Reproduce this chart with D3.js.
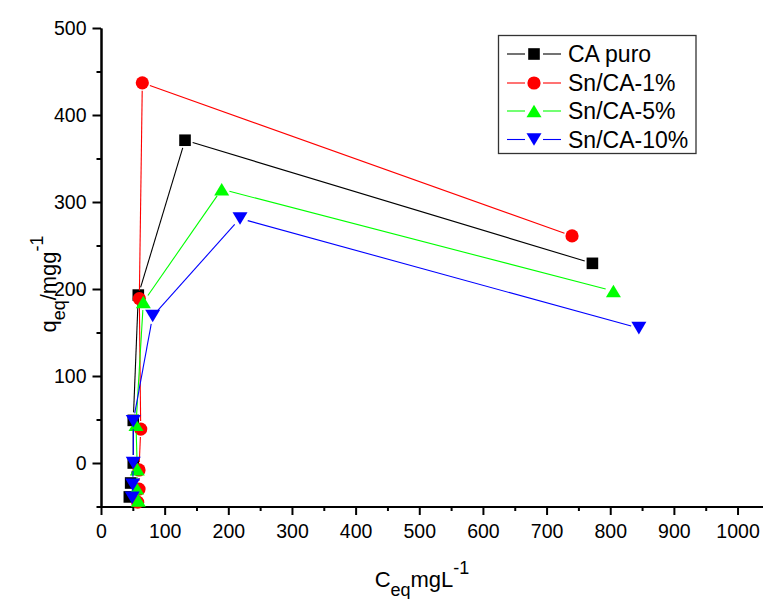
<!DOCTYPE html>
<html>
<head>
<meta charset="utf-8">
<script src="https://cdn.jsdelivr.net/npm/d3@7"></script>
<style>
  html, body { margin: 0; padding: 0; background: #fff; }
  svg { display: block; font-family: Arial, "Liberation Sans", sans-serif; }
</style>
</head>
<body>
<svg id="chart" width="763" height="599"></svg>
<script>
// Adsorption isotherm data: equilibrium concentration (mg/L) vs uptake (mg/g)
const seriesNames = ["CA puro", "Sn/CA-1%", "Sn/CA-5%", "Sn/CA-10%"];
const caPuroC = [44.5, 46.6, 50.7, 50.7, 58.6, 132, 772];
const caPuroQ = [-39, -23, 0, 49, 193, 371, 229.5];
const sn1C = [57.6, 59.7, 59.7, 62.4, 60.2, 64.9, 740];
const sn1Q = [-45, -30, -8, 39, 189, 437, 261];
const sn5C = [58.6, 56, 57, 55, 66.5, 189.6, 805];
const sn5Q = [-43, -29, -7, 44, 185, 314.6, 197.7];
const sn10C = [49, 49.8, 50.7, 50.7, 81.2, 218.4, 845];
const sn10Q = [-40, -25, 0, 48, 169, 281, 155];

const xTicks = [0, 100, 200, 300, 400, 500, 600, 700, 800, 900, 1000];
const xMinorTicks = [50, 150, 250, 350, 450, 550, 650, 750, 850, 950];
const yTicks = [0, 100, 200, 300, 400, 500];
const yMinorTicks = [-50, 50, 150, 250, 350, 450];

const colors = ["#000000", "#ff0000", "#00ff00", "#0000ff"];
const symbols = ["square", "circle", "triUp", "triDown"];

const series = [
  { name: seriesNames[0], c: caPuroC, q: caPuroQ },
  { name: seriesNames[1], c: sn1C, q: sn1Q },
  { name: seriesNames[2], c: sn5C, q: sn5Q },
  { name: seriesNames[3], c: sn10C, q: sn10Q }
];

const svg = d3.select("#chart");

const x = d3.scaleLinear().domain([0, 1040]).range([101, 763]);
const y = d3.scaleLinear().domain([-50, 500]).range([506.5, 28]);

// Axes
const axisStyle = g => {
  g.selectAll("path.domain").attr("stroke", "#000").attr("stroke-width", 2);
  g.selectAll(".tick line").attr("stroke", "#000").attr("stroke-width", 2);
  g.selectAll(".tick text").attr("font-size", 19.5).attr("fill", "#000")
    .attr("font-family", "Arial, 'Liberation Sans', sans-serif");
};
const fmt = d3.format("d");

svg.append("g")
  .attr("transform", `translate(0,${y(-50)})`)
  .call(d3.axisBottom(x).tickValues(xMinorTicks).tickSize(4.5).tickFormat("").tickSizeOuter(0))
  .call(axisStyle);
svg.append("g")
  .attr("transform", `translate(0,${y(-50)})`)
  .call(d3.axisBottom(x).tickValues(xTicks).tickSize(8.5).tickPadding(9).tickFormat(fmt).tickSizeOuter(0))
  .call(axisStyle);

svg.append("g")
  .attr("transform", `translate(${x(0)},0)`)
  .call(d3.axisLeft(y).tickValues(yMinorTicks).tickSize(4.5).tickFormat("").tickSizeOuter(0))
  .call(axisStyle);
svg.append("g")
  .attr("transform", `translate(${x(0)},0)`)
  .call(d3.axisLeft(y).tickValues(yTicks).tickSize(8.5).tickPadding(6).tickFormat(fmt).tickSizeOuter(0))
  .call(axisStyle);

// Marker shapes
function marker(sel, type, color) {
  if (type === "square") {
    sel.append("rect").attr("x", -5.8).attr("y", -5.8).attr("width", 11.6).attr("height", 11.6).attr("fill", color);
  } else if (type === "circle") {
    sel.append("circle").attr("r", 6.6).attr("fill", color);
  } else if (type === "triUp") {
    sel.append("path").attr("d", "M0,-6.3L7.5,6.3L-7.5,6.3Z").attr("fill", color);
  } else {
    sel.append("path").attr("d", "M0,6.3L7.5,-6.3L-7.5,-6.3Z").attr("fill", color);
  }
}

const gap = 8;
series.forEach((s, i) => {
  const pts = s.c.map((c, k) => [x(c), y(s.q[k])]);
  const g = svg.append("g");
  // connecting segments stop short of each symbol
  for (let k = 0; k < pts.length - 1; k++) {
    const [x1, y1] = pts[k], [x2, y2] = pts[k + 1];
    const dx = x2 - x1, dy = y2 - y1, len = Math.hypot(dx, dy);
    if (len <= 2 * gap) continue;
    const ux = dx / len, uy = dy / len;
    g.append("line")
      .attr("x1", x1 + ux * gap).attr("y1", y1 + uy * gap)
      .attr("x2", x2 - ux * gap).attr("y2", y2 - uy * gap)
      .attr("stroke", colors[i]).attr("stroke-width", 1.1);
  }
  pts.forEach(p => {
    const m = g.append("g").attr("transform", `translate(${p[0]},${p[1]})`);
    marker(m, symbols[i], colors[i]);
  });
});

// Legend
const legend = svg.append("g");
legend.append("rect")
  .attr("x", 498.5).attr("y", 35.5).attr("width", 197.5).attr("height", 118)
  .attr("fill", "#fff").attr("stroke", "#333").attr("stroke-width", 1.3);
const legendY = [54, 83, 111, 139.5];
seriesNames.forEach((name, i) => {
  const ly = legendY[i];
  legend.append("line").attr("x1", 507).attr("x2", 525).attr("y1", ly).attr("y2", ly)
    .attr("stroke", colors[i]).attr("stroke-width", 1.1);
  legend.append("line").attr("x1", 543).attr("x2", 561).attr("y1", ly).attr("y2", ly)
    .attr("stroke", colors[i]).attr("stroke-width", 1.1);
  const m = legend.append("g").attr("transform", `translate(534,${ly})`);
  marker(m, symbols[i], colors[i]);
  legend.append("text").attr("x", 568).attr("y", ly).attr("dy", "0.36em")
    .attr("font-size", 23).attr("fill", "#000").text(name);
});

// Axis titles
const xt = svg.append("text").attr("x", 422).attr("y", 587)
  .attr("text-anchor", "middle").attr("font-size", 22).attr("fill", "#000");
xt.append("tspan").text("C");
xt.append("tspan").attr("font-size", 18).attr("dy", 9).text("eq");
xt.append("tspan").attr("dy", -9).text("mgL");
xt.append("tspan").attr("font-size", 18).attr("dy", -13).text("-1");

const yt = svg.append("text")
  .attr("transform", "translate(56,284) rotate(-90)")
  .attr("text-anchor", "middle").attr("font-size", 22).attr("fill", "#000");
yt.append("tspan").text("q");
yt.append("tspan").attr("font-size", 18).attr("dy", 9).text("eq");
yt.append("tspan").attr("dy", -9).text("/mgg");
yt.append("tspan").attr("font-size", 18).attr("dy", -13).text("-1");
</script>
</body>
</html>
